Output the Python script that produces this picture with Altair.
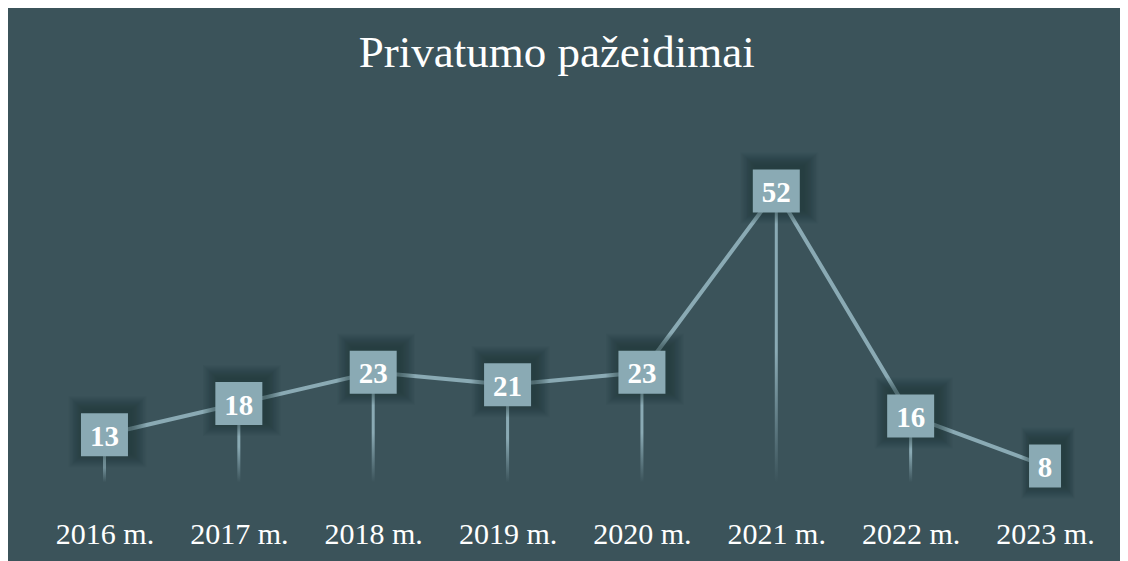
import altair as alt
import pandas as pd

# ---- data ----
years = ["2016 m.", "2017 m.", "2018 m.", "2019 m.", "2020 m.", "2021 m.", "2022 m.", "2023 m."]
values = [13, 18, 23, 21, 23, 52, 16, 8]
title_text = "Privatumo pažeidimai"

# ---- style ----
BG = "#3b535a"
ACCENT = "#8aaab4"
SHADOW = "#16242a"
BOX_H = 43
FONT = "Liberation Serif"


def box_path(v):
    w = 47 if v >= 10 else 32
    a = w / BOX_H
    return f"M{-a:.4f},-1H{a:.4f}V1H{-a:.4f}Z"


df = pd.DataFrame({"year": years, "value": values})
df["shape"] = [box_path(v) for v in values]
df["base"] = 5.4

x = alt.X(
    "year:N",
    sort=years,
    scale=alt.Scale(type="point", padding=0.558),
    axis=alt.Axis(
        title=None,
        domain=False,
        ticks=False,
        grid=False,
        labelFont=FONT,
        labelFontSize=30,
        labelColor="white",
        labelPadding=3,
        labelAngle=0,
    ),
)
y = alt.Y("value:Q", scale=alt.Scale(domain=[0, 66.56]), axis=None)

base = alt.Chart(df)

drops = base.mark_bar(
    width=3,
    color=alt.Gradient(
        gradient="linear",
        stops=[
            alt.GradientStop(color=ACCENT, offset=0),
            alt.GradientStop(color=ACCENT, offset=0.55),
            alt.GradientStop(color="rgba(138,170,180,0)", offset=1),
        ],
        x1=0, x2=0, y1=0, y2=1,
    ),
).encode(x=x, y=y, y2="base:Q")

line = base.mark_line(color=ACCENT, strokeWidth=4).encode(x=x, y=y)

shadows = []
for k in range(1, 15):
    shadows.append(
        base.mark_point(
            filled=True,
            fill=SHADOW,
            opacity=0.045,
            strokeWidth=0,
            size=(BOX_H + 2 * k) ** 2,
            xOffset=3,
            yOffset=-3,
        ).encode(x=x, y=y, shape=alt.Shape("shape:N", scale=None))
    )

boxes = base.mark_point(
    filled=True, fill=ACCENT, opacity=1, strokeWidth=0, size=BOX_H ** 2
).encode(x=x, y=y, shape=alt.Shape("shape:N", scale=None))

labels = base.mark_text(
    font=FONT, fontWeight="bold", fontSize=29, color="white", baseline="middle", dy=2
).encode(x=x, y=y, text="value:Q")

chart = (
    alt.layer(drops, line, *shadows, boxes, labels)
    .properties(
        width=1090.5,
        height=416,
        title=alt.TitleParams(
            text=title_text,
            font=FONT,
            fontSize=45,
            fontWeight="normal",
            color="white",
            anchor="middle",
            frame="group",
            baseline="alphabetic",
            offset=32,
            dx=-18,
            dy=44,
        ),
        autosize=alt.AutoSizeParams(type="none"),
        padding={"left": 21.5, "top": 92, "right": 0, "bottom": 45},
        background=BG,
    )
    .configure_view(stroke=None)
)

chart.save("out.html", embed_options={"renderer": "svg", "actions": False})
